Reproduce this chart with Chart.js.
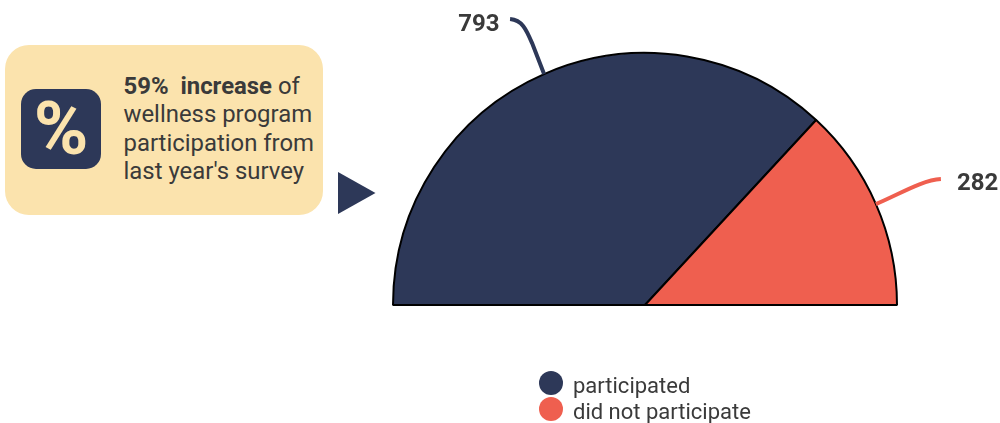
<!DOCTYPE html>
<html>
<head>
  <title>Wellness program participation</title>
  <style>
    html, body { margin: 0; padding: 0; background: #fff; }
    body { width: 1000px; height: 423px; overflow: hidden; position: relative; font-family: Roboto, sans-serif; color: #3a3a3a; }
    #chart { position: absolute; left: 0; top: 0; }
    #panel { position: absolute; left: 5px; top: 45px; width: 318px; height: 170px; background: #fbe3ad; border-radius: 24px; }
    #icon { position: absolute; left: 16px; top: 44px; width: 80px; height: 80px; background: #2d3858; border-radius: 15px; color: #fbe3ad; font-size: 74px; font-weight: 700; line-height: 80px; text-align: center; }
    #note { position: absolute; left: 118.5px; top: 27px; font-size: 23.9px; line-height: 28.3px; white-space: nowrap; }
    #arrow { position: absolute; left: 338px; top: 172px; width: 37.5px; height: 42px; background: #2d3858; clip-path: polygon(0 0, 100% 50%, 0 100%); }
    #legend { position: absolute; left: 539px; top: 371px; font-size: 22px; line-height: 26px; }
    #legend div { white-space: nowrap; height: 26px; position: relative; padding-left: 34px; top: 2px; }
    #legend span { position: absolute; left: 0; top: -2px; width: 24px; height: 24px; border-radius: 50%; }
  </style>
</head>
<body>
  <canvas id="chart" width="1000" height="423"></canvas>
  <div id="panel">
    <div id="icon">%</div>
    <div id="note"><b>59%&nbsp; increase</b> of<br>wellness program<br>participation from<br>last year's survey</div>
  </div>
  <div id="arrow"></div>
  <div id="legend"></div>

  <script src="https://cdn.jsdelivr.net/npm/chart.js"></script>
  <script>
    const categories = ['participated', 'did not participate'];
    const values = [793, 282];
    const colors = ['#2d3858', '#ef5f4f'];

    // legenda
    const legend = document.getElementById('legend');
    categories.forEach(function(name, i) {
      const row = document.createElement('div');
      const dot = document.createElement('span');
      dot.style.background = colors[i];
      row.appendChild(dot);
      row.appendChild(document.createTextNode(name));
      legend.appendChild(row);
    });

    // linhas de chamada e rótulos, a partir do meio de cada fatia
    const leaderLabels = {
      id: 'leaderLabels',
      afterDatasetsDraw: function(chart) {
        const ctx = chart.ctx;
        const arcs = chart.getDatasetMeta(0).data;
        arcs.forEach(function(arc, i) {
          const mid = (arc.startAngle + arc.endAngle) / 2;
          const x = arc.x + Math.cos(mid) * arc.outerRadius;
          const y = arc.y + Math.sin(mid) * arc.outerRadius;
          ctx.save();
          ctx.strokeStyle = colors[i];
          ctx.lineWidth = 4;
          ctx.beginPath();
          ctx.moveTo(x, y);
          if (i === 0) {
            ctx.lineTo(x - 12, y - 31);
            ctx.bezierCurveTo(x - 18, y - 45, x - 22, y - 54, x - 34, y - 55);
          } else {
            ctx.bezierCurveTo(x + 22, y - 9, x + 46, y - 24, x + 65, y - 25);
          }
          ctx.stroke();
          ctx.fillStyle = '#3a3a3a';
          ctx.font = 'bold 24px Roboto';
          ctx.textBaseline = 'alphabetic';
          if (i === 0) {
            ctx.textAlign = 'right';
            ctx.fillText(values[i], x - 44.5, y - 43);
          } else {
            ctx.textAlign = 'left';
            ctx.fillText(values[i], x + 81, y - 14);
          }
          ctx.restore();
        });
      }
    };

    new Chart(document.getElementById('chart'), {
      type: 'doughnut',
      data: {
        labels: categories,
        datasets: [{
          data: values,
          backgroundColor: colors,
          borderColor: '#000000',
          borderWidth: 2,
          hoverOffset: 0
        }]
      },
      options: {
        responsive: false,
        animation: false,
        cutout: 0,
        rotation: -90,
        circumference: 180,
        layout: { padding: { left: 392, right: 102, top: 52, bottom: 117 } },
        plugins: { legend: { display: false }, tooltip: { enabled: false } }
      },
      plugins: [leaderLabels]
    });
  </script>
</body>
</html>
